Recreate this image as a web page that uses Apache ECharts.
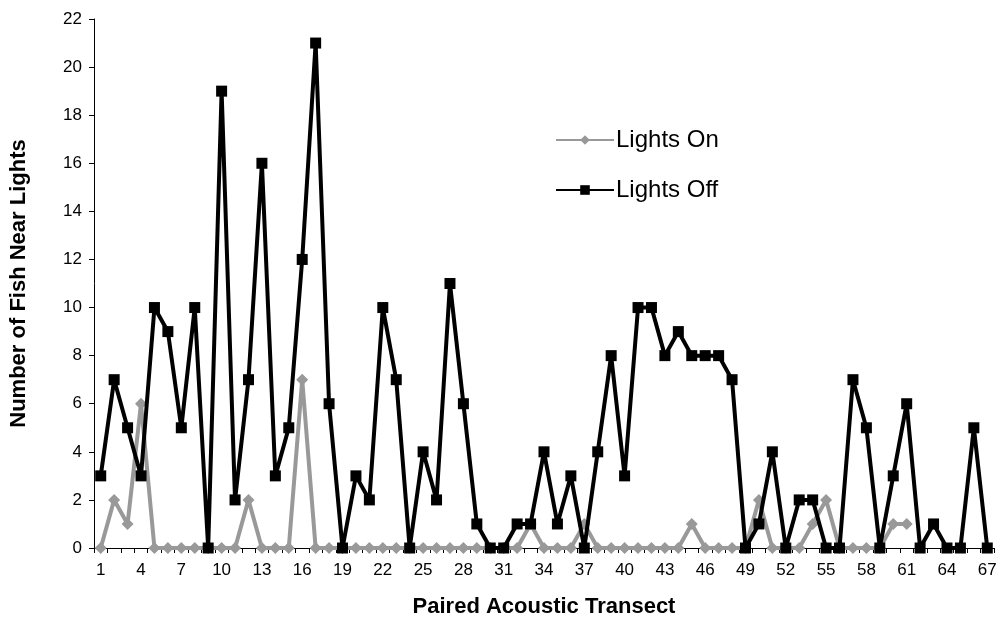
<!DOCTYPE html>
<html>
<head>
<meta charset="utf-8">
<script src="https://cdn.jsdelivr.net/npm/echarts@6/dist/echarts.min.js"></script>
<style>
  html, body { margin: 0; padding: 0; background: #fff; }
  #chart { width: 1000px; height: 625px; }
</style>
</head>
<body>
<div id="chart"></div>
<script>
// transects 1..67
const transects = [];
for (let i = 1; i <= 67; i++) transects.push(String(i));

const lightsOn = [0, 2, 1, 6, 0, 0, 0, 0, 0, 0,
  0, 2, 0, 0, 0, 7, 0, 0, 0, 0,
  0, 0, 0, 0, 0, 0, 0, 0, 0, 0,
  0, 0, 1, 0, 0, 0, 1, 0, 0, 0,
  0, 0, 0, 0, 1, 0, 0, 0, 0, 2,
  0, 0, 0, 1, 2, 0, 0, 0, 0, 1,
  1];

const lightsOff = [3, 7, 5, 3, 10, 9, 5, 10, 0, 19,
  2, 7, 16, 3, 5, 12, 21, 6, 0, 3,
  2, 10, 7, 0, 4, 2, 11, 6, 1, 0,
  0, 1, 1, 4, 1, 3, 0, 4, 8, 3,
  10, 10, 8, 9, 8, 8, 8, 7, 0, 1,
  4, 0, 2, 2, 0, 0, 7, 5, 0, 3,
  6, 0, 1, 0, 0, 5, 0];

const chart = echarts.init(document.getElementById('chart'), null, { renderer: 'canvas' });

const font = 'Liberation Sans, Arial, sans-serif';

chart.setOption({
  animation: false,
  backgroundColor: '#fff',
  textStyle: { fontFamily: font },
  grid: { left: 94, right: 6, top: 19, bottom: 77 },
  legend: {
    orient: 'vertical',
    left: 555,
    top: 128,
    padding: 0,
    itemWidth: 58,
    itemHeight: 12,
    itemGap: 26,
    textStyle: { fontSize: 24, color: '#000', fontFamily: font, padding: [0, 0, 0, -3] },
    data: ['Lights On', 'Lights Off']
  },
  xAxis: {
    type: 'category',
    data: transects,
    boundaryGap: true,
    name: 'Paired Acoustic Transect',
    nameLocation: 'middle',
    nameGap: 48,
    nameTextStyle: { fontSize: 22, fontWeight: 'bold', color: '#000', fontFamily: font },
    axisLine: { lineStyle: { color: '#000', width: 1 } },
    axisTick: { show: true, interval: 0, length: 5, lineStyle: { color: '#000' } },
    axisLabel: { interval: 2, fontSize: 17, color: '#000', margin: 14, fontFamily: font },
    splitLine: { show: false }
  },
  yAxis: {
    type: 'value',
    min: 0,
    max: 22,
    interval: 2,
    name: 'Number of Fish Near Lights',
    nameLocation: 'middle',
    nameGap: 64,
    nameTextStyle: { fontSize: 22, fontWeight: 'bold', color: '#000', fontFamily: font },
    axisLine: { show: true, lineStyle: { color: '#000', width: 1 } },
    axisTick: { show: true, length: 5, lineStyle: { color: '#000' } },
    axisLabel: { fontSize: 17, color: '#000', margin: 12, fontFamily: font },
    splitLine: { show: false }
  },
  series: [
    {
      name: 'Lights On',
      type: 'line',
      data: lightsOn,
      symbol: 'diamond',
      symbolSize: 12,
      showAllSymbol: true,
      z: 2,
      itemStyle: { color: '#999999' },
      lineStyle: { color: '#999999', width: 4 }
    },
    {
      name: 'Lights Off',
      type: 'line',
      data: lightsOff,
      symbol: 'rect',
      symbolSize: 11,
      showAllSymbol: true,
      z: 3,
      itemStyle: { color: '#000' },
      lineStyle: { color: '#000', width: 4 }
    }
  ]
});
</script>
</body>
</html>
